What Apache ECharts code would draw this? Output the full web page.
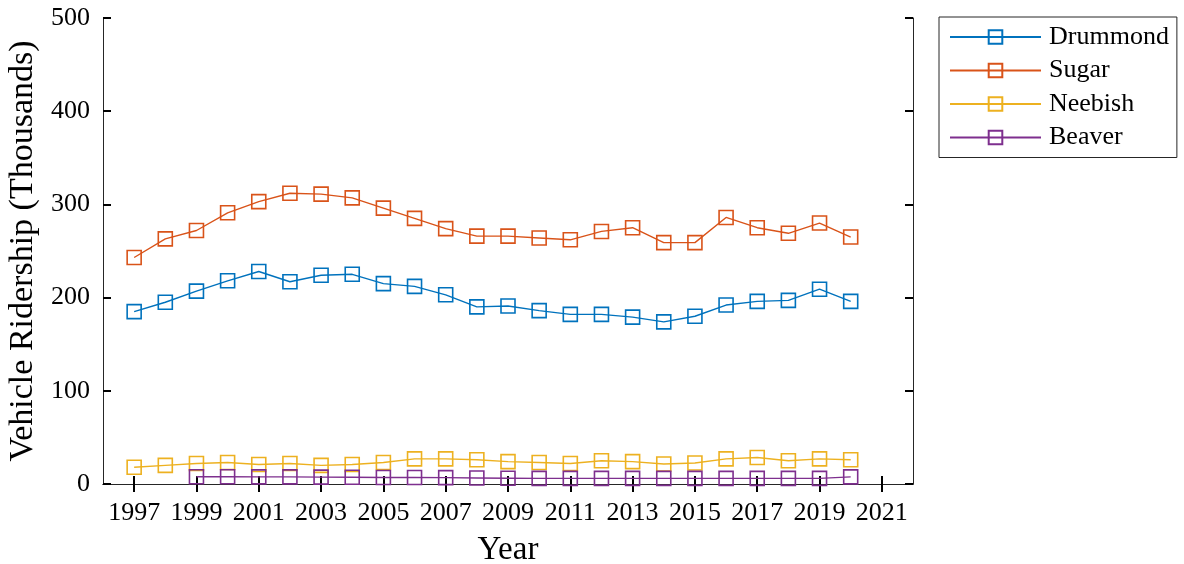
<!DOCTYPE html>
<html>
<head>
<meta charset="utf-8">
<script src="https://cdn.jsdelivr.net/npm/echarts@6/dist/echarts.min.js"></script>
<style>
  html, body { margin: 0; padding: 0; background: #fff; }
  #chart { width: 1184px; height: 564px; }
</style>
</head>
<body>
<div id="chart"></div>
<script>
// Annual vehicle ridership per ferry route, in thousands
const years = [1997, 1998, 1999, 2000, 2001, 2002, 2003, 2004, 2005, 2006, 2007, 2008,
               2009, 2010, 2011, 2012, 2013, 2014, 2015, 2016, 2017, 2018, 2019, 2020];
const drummond = [185, 195, 207, 218, 228, 217, 224, 225, 215, 212, 203, 190,
                  191, 186, 182, 182, 179, 174, 180, 192, 196, 197, 209, 196];
const sugar = [243, 263, 272, 291, 303, 312, 311, 307, 296, 285, 274, 266,
               266, 264, 262, 271, 275, 259, 259, 286, 275, 269, 280, 265];
const neebish = [18, 20, 22, 23, 21, 22, 20, 21, 23, 27, 27, 26,
                 24, 23, 22, 25, 24, 21.5, 22.5, 27, 28.5, 25, 27, 26];
const beaver = [null, null, 7.8, 7.8, 7.6, 7.6, 7.4, 7.2, 7.0, 7.0, 6.8, 6.5,
                6.2, 6.0, 6.0, 6.0, 6.0, 6.0, 6.0, 6.0, 6.0, 6.0, 6.0, 7.6];
const yearTicks = [1997, 1999, 2001, 2003, 2005, 2007, 2009, 2011, 2013, 2015, 2017, 2019, 2021];

const FONT = '"Liberation Serif", "Times New Roman", serif';
const AXIS_COLOR = '#262626';

function pairs(values) {
  return years.map((y, i) => [y, values[i]]);
}

function lineSeries(name, values, color) {
  return {
    name: name,
    type: 'line',
    data: pairs(values),
    symbol: 'rect',
    symbolSize: 14,
    connectNulls: false,
    lineStyle: { color: color, width: 1.4 },
    itemStyle: { color: 'rgba(255,255,255,0)', borderColor: color, borderWidth: 1.6 },
    emphasis: { disabled: true },
    z: 3
  };
}

const chart = echarts.init(document.getElementById('chart'), null, { renderer: 'canvas' });

chart.setOption({
  animation: false,
  backgroundColor: '#ffffff',
  grid: { left: 103, top: 18, right: 271, bottom: 80, containLabel: false, outerBoundsMode: 'none' },
  legend: {
    orient: 'vertical',
    left: 939,
    top: 17,
    padding: [7, 8, 7, 10],
    itemWidth: 91,
    itemHeight: 17,
    itemGap: 7.5,
    backgroundColor: '#ffffff',
    borderColor: AXIS_COLOR,
    borderWidth: 1,
    textStyle: { fontFamily: FONT, fontSize: 26, color: '#000', padding: [0, 0, 0, 3] },
    data: ['Drummond', 'Sugar', 'Neebish', 'Beaver']
  },
  xAxis: [
    {
      type: 'value',
      min: 1996,
      max: 2022,
      name: 'Year',
      nameLocation: 'middle',
      nameGap: 50,
      nameTextStyle: { fontFamily: FONT, fontSize: 33, color: '#000' },
      axisLine: { show: true, lineStyle: { color: AXIS_COLOR, width: 1 } },
      axisTick: { show: true, inside: true, length: 8, customValues: yearTicks, lineStyle: { color: '#000', width: 2 } },
      axisLabel: { show: true, customValues: yearTicks, margin: 16, fontFamily: FONT, fontSize: 26, color: '#000',
                   formatter: v => String(v) },
      splitLine: { show: false }
    },
    {
      type: 'value',
      position: 'top',
      min: 1996,
      max: 2022,
      axisLine: { show: true, lineStyle: { color: AXIS_COLOR, width: 1 } },
      axisTick: { show: true, inside: true, length: 8, customValues: yearTicks, lineStyle: { color: '#000', width: 2 } },
      axisLabel: { show: false },
      splitLine: { show: false }
    }
  ],
  yAxis: [
    {
      type: 'value',
      min: 0,
      max: 500,
      interval: 100,
      name: 'Vehicle Ridership (Thousands)',
      nameLocation: 'middle',
      nameGap: 63,
      nameTextStyle: { fontFamily: FONT, fontSize: 34, color: '#000' },
      axisLine: { show: true, lineStyle: { color: AXIS_COLOR, width: 1 } },
      axisTick: { show: true, inside: true, length: 8, lineStyle: { color: '#000', width: 2 } },
      axisLabel: { margin: 13, fontFamily: FONT, fontSize: 26, color: '#000' },
      splitLine: { show: false }
    },
    {
      type: 'value',
      position: 'right',
      min: 0,
      max: 500,
      interval: 100,
      axisLine: { show: true, lineStyle: { color: AXIS_COLOR, width: 1 } },
      axisTick: { show: true, inside: true, length: 8, lineStyle: { color: '#000', width: 2 } },
      axisLabel: { show: false },
      splitLine: { show: false }
    }
  ],
  series: [
    lineSeries('Drummond', drummond, '#0072BD'),
    lineSeries('Sugar', sugar, '#D95319'),
    lineSeries('Neebish', neebish, '#EDB120'),
    lineSeries('Beaver', beaver, '#7E2F8E')
  ]
});
</script>
</body>
</html>
